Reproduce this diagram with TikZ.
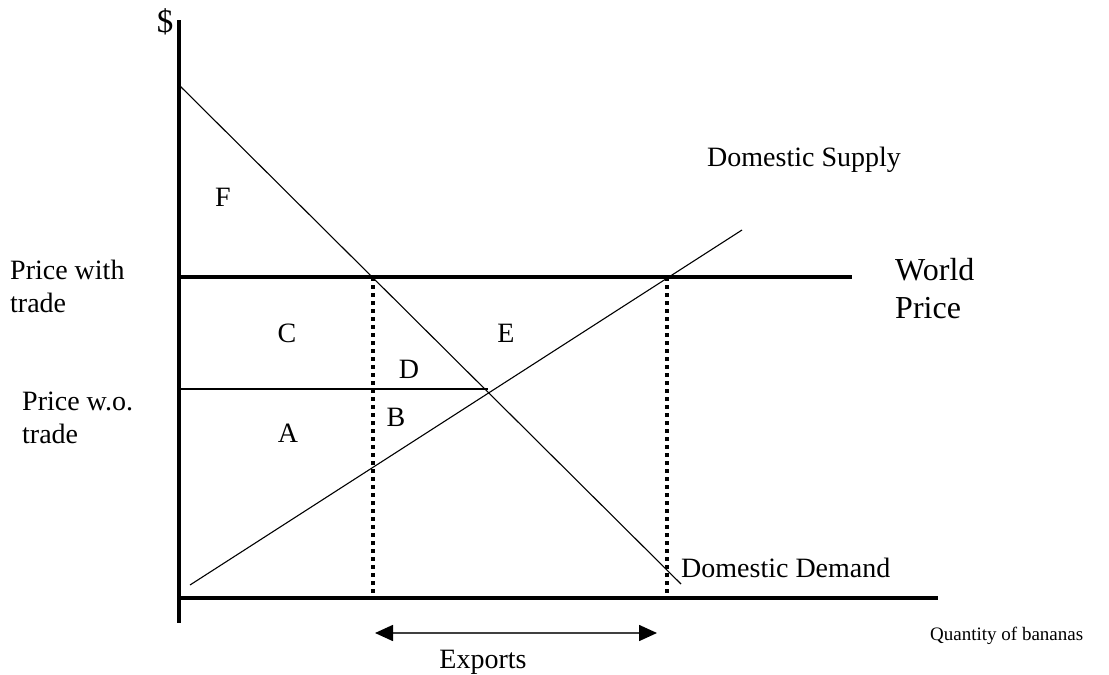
\documentclass[tikz,border=0pt]{standalone}
\usepackage{fontspec}
\setmainfont{Liberation Serif}
\usetikzlibrary{arrows.meta}
\tikzset{
  lbl/.style={font=\fontsize{28}{33}\selectfont, inner sep=0pt},
  axis/.style={line width=4pt},
  cur/.style={line width=1.1pt},
  drop/.style={line width=4pt, dash pattern=on 4pt off 4pt}
}
\begin{document}
\begin{tikzpicture}[x=1pt, y=-1pt]
  \useasboundingbox (0,0) rectangle (1109,675);

  % osi
  \coordinate (ytop) at (179,20);
  \coordinate (ybot) at (179,623);
  \coordinate (xl) at (177,598);
  \coordinate (xr) at (938,598);
  \draw[axis] (ytop) -- (ybot);
  \draw[axis] (xl) -- (xr);
  \node[lbl, font=\fontsize{33}{38}\selectfont] (dollar) at (165,22) {\$};
  \node[lbl, font=\fontsize{19}{22}\selectfont, anchor=west] (qty) at (930,636) {Quantity of bananas};

  % svetova cena a cena bez obchodu
  \coordinate (wp0) at (179,277);
  \coordinate (wp1) at (852,277);
  \draw[axis] (wp0) -- (wp1);
  \coordinate (pn0) at (179,389);
  \coordinate (pn1) at (488,389);
  \draw[cur] (pn0) -- (pn1);

  % dopyt a ponuka
  \coordinate (d0) at (179,85);
  \coordinate (d1) at (681,584);
  \draw[cur] (d0) -- (d1);
  \coordinate (s0) at (190,585);
  \coordinate (s1) at (742,230);
  \draw[cur] (s0) -- (s1);

  % bodkovane ciary
  \coordinate (q1t) at (373,277);
  \coordinate (q1b) at (373,598);
  \coordinate (q2t) at (667,277);
  \coordinate (q2b) at (667,598);
  \draw[drop] (q1t) -- (q1b);
  \draw[drop] (q2t) -- (q2b);

  % vyvoz
  \coordinate (ex0) at (375,633);
  \coordinate (ex1) at (657,633);
  \draw[line width=1.6pt, black!75, {Triangle[length=18pt,width=16pt,black]}-{Triangle[length=18pt,width=16pt,black]}] (ex0) -- (ex1);
  \node[lbl] (exports) at (483,662) {Exports};

  % plochy
  \foreach \n/\x/\y in {F/223/197, C/287/333, E/506/333, D/409/369, A/288/433, B/396/417}
    \node[lbl] (area\n) at (\x,\y) {\n};

  % popisy
  \node[lbl, anchor=west, align=left] (pwith) at (10,286) {Price with\\trade};
  \node[lbl, anchor=west, align=left] (pwo) at (22,418) {Price w.o.\\trade};
  \node[lbl, anchor=west] (supply) at (707,160) {Domestic Supply};
  \node[lbl, anchor=west] (demand) at (681,568) {Domestic Demand};
  \node[lbl, anchor=west, align=left, font=\fontsize{32}{38}\selectfont] (world) at (895,289) {World\\Price};

\end{tikzpicture}
\end{document}
